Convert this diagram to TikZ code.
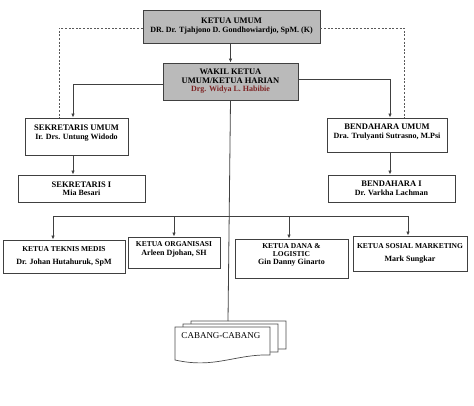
\documentclass[tikz,border=0pt]{standalone}
\usepackage{fontspec}
\setmainfont{Liberation Serif}
\usetikzlibrary{positioning,arrows.meta,calc}
\definecolor{namered}{RGB}{125,35,35}
\newcommand{\personfont}{\fontsize{8}{9.5}\selectfont}

\begin{document}
\begin{tikzpicture}[
    x=1pt, y=-1pt,
    every node/.style={draw=black!75, line width=0.9pt, align=center, inner sep=1pt, font=\fontsize{8.5}{10.5}\selectfont\bfseries, fill=white},
    head/.style={fill=black!27},
    unit/.style={font=\fontsize{7.5}{10.5}\selectfont\bfseries},
    plain/.style={draw=none, fill=none, font=\fontsize{9}{11}\selectfont},
    link/.style={draw=black!75, line width=0.8pt},
    arrow/.style={link, -{Latex[length=4pt,width=3.5pt]}},
    dotlink/.style={draw=black!65, line width=0.8pt, dash pattern=on 2pt off 1.6pt},
    doc/.style={draw=black!70, line width=0.7pt, fill=white}
]
\useasboundingbox (0,0) rectangle (474,406);

% pimpinan
\node[head, minimum width=177pt, minimum height=33pt] (ketua) at (231.5,26.5)
    {KETUA UMUM\\[-1.5pt] {\personfont DR. Dr. Tjahjono D. Gondhowiardjo, SpM. (K)}};
\node[head, minimum width=135pt, minimum height=37pt] (wakil) at (230.5,81.5)
    {WAKIL KETUA\\[-1.5pt] UMUM/KETUA HARIAN\\[-2.5pt] {\personfont\color{namered} Drg. Widya L. Habibie}};

% sekretaris dan bendahara
\node[minimum width=103pt, minimum height=37pt, text depth=8pt] (sekum) at (76.5,136.5)
    {SEKRETARIS UMUM\\[-1.5pt] {\personfont Ir. Drs. Untung Widodo}};
\node[minimum width=127pt, minimum height=27pt] (sek1) at (81.5,188.5)
    {SEKRETARIS I\\[-2pt] {\personfont Mia Besari}};
\node[minimum width=120pt, minimum height=34pt, text depth=7pt] (benum) at (387,135)
    {BENDAHARA UMUM\\[-1.5pt] {\personfont Dra. Trulyanti Sutrasno, M.Psi}};
\node[minimum width=127pt, minimum height=27pt] (ben1) at (391.5,188.5)
    {BENDAHARA I\\[-2pt] {\personfont Dr. Varkha Lachman}};

% ketua bidang
\node[unit, minimum width=122pt, minimum height=33pt] (teknis) at (64,256.5)
    {KETUA TEKNIS MEDIS\\[3pt] {\personfont Dr. Johan Hutahuruk, SpM}};
\node[unit, minimum width=92pt, minimum height=31pt, text depth=7pt] (organisasi) at (174,252.5)
    {KETUA ORGANISASI\\[-1.5pt] {\personfont Arleen Djohan, SH}};
\node[unit, minimum width=113pt, minimum height=39pt, text depth=9pt] (dana) at (291.5,258.5)
    {KETUA DANA \&\\[-2pt] LOGISTIC\\[-2.5pt] {\personfont Gin Danny Ginarto}};
\node[unit, minimum width=114pt, minimum height=35pt] (sosial) at (410,253.5)
    {{\fontsize{7.5}{9}\selectfont KETUA SOSIAL MARKETING}\\[3pt] {\personfont Mark Sungkar}};

% cabang
\foreach \dx/\dy in {16/-6, 8/-3, 0/0}
    \draw[doc, shift={(\dx,\dy)}] (175,327) -- (270,327) -- (270,355)
        .. controls (235,354) and (215,369) .. (175,360) -- cycle;
\node[plain] (cabang) at (221,336) {CABANG-CABANG};
\coordinate (cabtop) at (228,321);
\coordinate (bus) at (228,216);

% garis komando
\draw[arrow] (ketua.south -| wakil.north) -- (wakil.north);
\draw[arrow] ([yshift=-3pt]wakil.west) -| ([xshift=-3.5pt]sekum.north);
\draw[arrow] ([yshift=2.5pt]wakil.east) -| ([xshift=3pt]benum.north);
\draw[arrow] ([xshift=-3.5pt]sekum.south) -- ([xshift=-8.5pt]sek1.north);
\draw[arrow] ([xshift=3pt]benum.south) -- ([xshift=-1.5pt]ben1.north);
\draw[link] (wakil.south) -- (cabtop);
\draw[arrow] (bus) -| ([xshift=-11pt]teknis.north);
\draw[arrow] (bus) -| (organisasi.north);
\draw[arrow] (bus) -| ([xshift=-2.5pt]dana.north);
\draw[arrow] (bus) -| ([xshift=-2pt]sosial.north);

% garis koordinasi
\draw[dotlink] ([yshift=-1.5pt]ketua.west) -| ([xshift=-17.5pt]sekum.north);
\draw[dotlink] ([yshift=-1.5pt]ketua.east) -| ([xshift=17pt]benum.north);

\end{tikzpicture}
\end{document}
